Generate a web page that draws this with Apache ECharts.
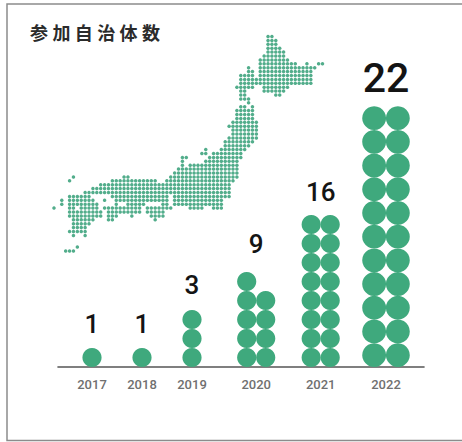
<!DOCTYPE html>
<html>
<head>
<meta charset="utf-8">
<style>
  html, body { margin: 0; padding: 0; background: #fff; }
  #chart { width: 462px; height: 442px; }
  #chart text[style*="CJK"] { letter-spacing: 4.4px; }
</style>
<script src="https://cdn.jsdelivr.net/npm/echarts@6/dist/echarts.min.js"></script>
</head>
<body>
<div id="chart"></div>
<script>
// Municipalities taking part, per year
const years = ['2017', '2018', '2019', '2020', '2021', '2022'];
const counts = [1, 1, 3, 9, 16, 22];

// How each year's circles are laid out: columns and horizontal centre (in baseline units)
const columnsPerYear = [1, 1, 1, 2, 2, 2];
const yearCentres = [34, 84, 134, 198.2, 262.7, 328];
const dotDiameter = [19, 19, 19, 19, 19, 23.7];
const labelSizes = [26, 26, 26, 26, 26, 41];
const labelGaps = [24, 24, 25, 28, 23, 28];

// Dot-grid map of Japan: one string per grid row, listing occupied columns
const mapRows = [
  '55-56', '55-57', '55-57', '55-58', '55-59', '54-59', '53-60',
  '53-62 65 68-69', '50 53-67', '50-51 53-66', '48-51 53-66', '48-66', '48-66',
  '47-51 54-60', '48-49 54-59', '48-49 57-58', '48-50', '50', '48-49 51',
  '47-51', '47-51', '47-51', '46-52', '45-52', '46-52', '46-52', '45-52',
  '44-51', '44-50', '39 43-49', '38-39 41-48', '33-34 40-48', '33 39-47',
  '33 35-47', '32-47', '31-47', '5 18-19 30-47', '4 15-26 29-46', '12-45',
  '10-45', '8-45', '4-9 15-29 31-45', '2 4-10 13 16-29 31-43',
  '2 4-11 16 19-23 28-29 31-43', '0 4-5 7-11 13-22 24-30 35-38 41-43',
  '4-12 14-22 24-28', '4-12 14-16 20 25-28', '5-10 14-15 26', '5-9', '5-8',
  '4-8', '5 8', '', '', '6', '3-5'
];

const GREEN = '#3fa97d';

const mapDots = [];
mapRows.forEach((row, r) => {
  row.split(' ').filter(Boolean).forEach(span => {
    const [a, b = a] = span.split('-').map(Number);
    for (let c = a; c <= b; c++) mapDots.push([c, r]);
  });
});

// Stack each year's circles upward from the baseline, filling columns evenly with the extra on the left
const stackSeries = years.map((year, i) => {
  const cols = columnsPerYear[i];
  const d = dotDiameter[i];
  const tall = Math.ceil(counts[i] / cols);
  const points = [];
  for (let n = 0; n < counts[i]; n++) {
    const col = cols === 1 ? 0 : (n < tall ? 0 : 1);
    const row = cols === 1 ? n : (n < tall ? n : n - tall);
    const offset = cols === 1 ? 0 : (col === 0 ? -d / 2 : d / 2);
    points.push([yearCentres[i] + offset, (row + 0.5) * d]);
  }
  return {
    name: year,
    type: 'scatter',
    xAxisIndex: 0,
    yAxisIndex: 0,
    symbol: 'circle',
    symbolSize: d + 0.2,
    itemStyle: { color: GREEN, opacity: 1 },
    silent: true,
    clip: false,
    data: points
  };
});

// Totals above each stack
const totalsData = years.map((year, i) => {
  const cols = columnsPerYear[i];
  const top = Math.ceil(counts[i] / cols) * dotDiameter[i];
  return {
    value: [yearCentres[i], top + labelGaps[i], counts[i]],
    itemStyle: { color: 'transparent' },
    label: { fontSize: labelSizes[i], color: '#141414', opacity: 1 }
  };
});

const chart = echarts.init(document.getElementById('chart'), null, { renderer: 'svg' });
chart.setOption({
  animation: false,
  backgroundColor: '#ffffff',
  title: {
    text: '参加自治体数',
    left: 30,
    top: 23,
    padding: 0,
    textStyle: {
      fontFamily: '"Noto Sans CJK JP"',
      fontSize: 18,
      fontWeight: 'bold',
      color: '#2b2b2b'
    }
  },
  graphic: [{
    type: 'rect',
    silent: true,
    shape: { x: 7, y: 4, width: 480, height: 436.5 },
    style: { fill: 'none', stroke: '#8c8c8c', lineWidth: 1.5 }
  }],
  grid: [
    { left: 58, top: 0, width: 366, height: 367 },
    { left: 54, top: 36.5, width: 268.5, height: 214.5 }
  ],
  xAxis: [
    {
      gridIndex: 0,
      type: 'value',
      min: 0,
      max: 366,
      splitLine: { show: false },
      axisTick: { show: false },
      axisLine: { onZero: false, lineStyle: { color: '#565656', width: 1.6 } },
      axisLabel: {
        customValues: yearCentres,
        formatter: v => years[yearCentres.indexOf(v)],
        margin: 11,
        fontFamily: 'Roboto',
        fontWeight: 500,
        fontSize: 13,
        color: '#707070'
      }
    },
    { gridIndex: 1, type: 'value', min: 0, max: 69, show: false }
  ],
  yAxis: [
    { gridIndex: 0, type: 'value', min: 0, max: 367, show: false },
    { gridIndex: 1, type: 'value', min: 0, max: 55, inverse: true, show: false }
  ],
  series: [
    {
      name: 'map',
      type: 'scatter',
      xAxisIndex: 1,
      yAxisIndex: 1,
      symbol: 'circle',
      symbolSize: 3.5,
      itemStyle: { color: '#52ad8b', opacity: 1 },
      silent: true,
      clip: false,
      data: mapDots
    },
    ...stackSeries,
    {
      name: 'totals',
      type: 'scatter',
      xAxisIndex: 0,
      yAxisIndex: 0,
      symbolSize: 1,
      silent: true,
      clip: false,
      label: {
        show: true,
        position: 'inside',
        formatter: p => String(p.value[2]),
        fontFamily: 'Roboto',
        fontWeight: 500,
        color: '#141414'
      },
      data: totalsData
    }
  ]
});
</script>
</body>
</html>
